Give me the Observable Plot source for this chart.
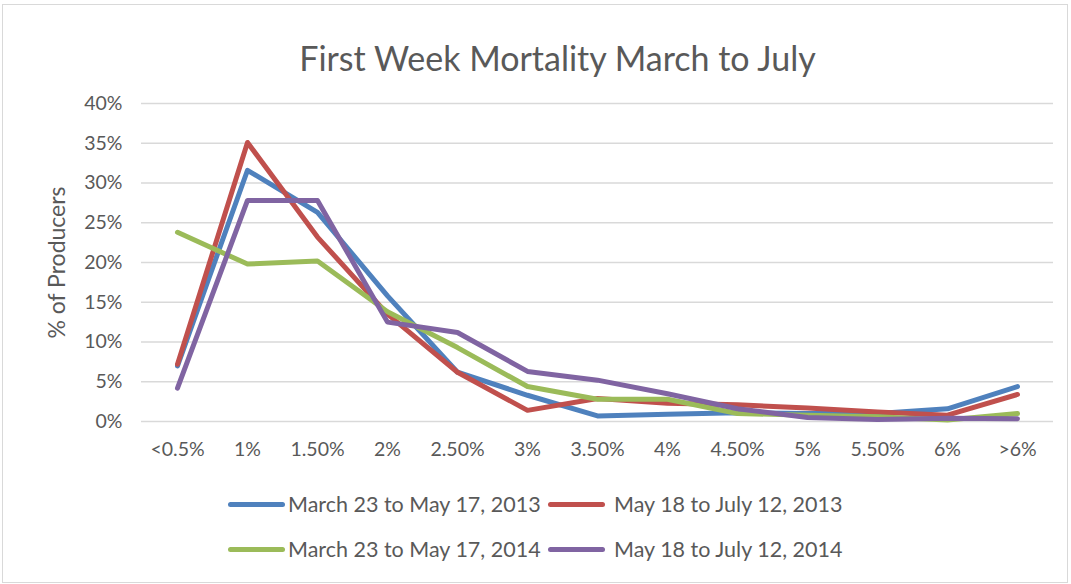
<!DOCTYPE html>
<html>
<head>
<meta charset="utf-8">
<script src="https://cdn.jsdelivr.net/npm/d3@7"></script>
<script src="https://cdn.jsdelivr.net/npm/@observablehq/plot@0.6"></script>
<style>
  html, body { margin: 0; padding: 0; background: #fff; overflow: hidden; }
  #wrap { position: relative; width: 1071px; height: 584px; font-family: Lato, "Open Sans", sans-serif; color: #595959; }
  #frame { position: absolute; left: 2px; top: 4px; width: 1064px; height: 577px; border: 1px solid #d9d9d9; }
  #title { position: absolute; left: 0; top: 41px; width: 1071px; padding-left: 44px; box-sizing: border-box; text-align: center; font-size: 34px; line-height: 34px; white-space: nowrap; }
  #chart { position: absolute; left: 0; top: 90px; }
  #legend { position: absolute; left: 228px; top: 490px; display: grid; grid-template-columns: 320px auto; row-gap: 17px; font-size: 21.5px; line-height: 28px; }
  .item { display: flex; align-items: center; white-space: nowrap; }
  .sw { display: inline-block; width: 57px; height: 5px; border-radius: 3px; margin-right: 3px; }
  .item.c2 .sw { margin-right: 9px; }
</style>
</head>
<body>
<div id="wrap">
  <div id="frame"></div>
  <div id="title">First Week Mortality March to July</div>
  <div id="chart"></div>
  <div id="legend"></div>
</div>
<script>
const categories = ["<0.5%", "1%", "1.50%", "2%", "2.50%", "3%", "3.50%", "4%", "4.50%", "5%", "5.50%", "6%", ">6%"];
const seriesNames = ["March 23 to May 17, 2013", "May 18 to July 12, 2013", "March 23 to May 17, 2014", "May 18 to July 12, 2014"];
const seriesColors = ["#4F81BD", "#C0504D", "#9BBB59", "#8064A2"];
const marMay2013 = [7.0, 31.6, 26.3, 15.8, 6.2, 3.3, 0.7, 0.9, 1.1, 1.0, 1.0, 1.6, 4.4];
const mayJul2013 = [7.2, 35.1, 23.2, 13.5, 6.2, 1.4, 2.9, 2.3, 2.1, 1.7, 1.2, 0.8, 3.4];
const marMay2014 = [23.8, 19.8, 20.2, 13.8, 9.3, 4.4, 2.8, 2.8, 1.0, 0.8, 0.6, 0.2, 1.0];
const mayJul2014 = [4.2, 27.8, 27.8, 12.5, 11.2, 6.3, 5.2, 3.5, 1.6, 0.5, 0.25, 0.4, 0.35];
const yTicks = [0, 0.05, 0.10, 0.15, 0.20, 0.25, 0.30, 0.35, 0.40];
const yLabel = "% of Producers";

const allSeries = [marMay2013, mayJul2013, marMay2014, mayJul2014];
const data = [];
allSeries.forEach((vals, si) => {
  vals.forEach((v, i) => data.push({series: seriesNames[si], cat: categories[i], value: v / 100}));
});

const chart = Plot.plot({
  width: 1071,
  height: 375,
  marginTop: 13,
  marginBottom: 44,
  marginLeft: 141,
  marginRight: 18,
  style: {fontFamily: "Lato, 'Open Sans', sans-serif", fontSize: "19.5px", color: "#595959", background: "transparent"},
  x: {type: "point", domain: categories, padding: 0.5, label: null, tickSize: 0, tickPadding: 21},
  y: {domain: [0, 0.4], ticks: yTicks, tickFormat: d3.format(".0%"), label: null, tickSize: 0, tickPadding: 19},
  color: {domain: seriesNames, range: seriesColors},
  marks: [
    Plot.gridY(yTicks, {stroke: "#d9d9d9", strokeOpacity: 1, strokeWidth: 1.3}),
    Plot.line(data, {x: "cat", y: "value", stroke: "series", z: "series", strokeWidth: 5, strokeLinejoin: "round", strokeLinecap: "round"}),
    Plot.text([yLabel], {text: d => d, frameAnchor: "left", textAnchor: "middle", dx: -84, rotate: -90, fontSize: 23, fill: "#595959"})
  ]
});
document.getElementById("chart").appendChild(chart);

const legend = document.getElementById("legend");
seriesNames.forEach((name, i) => {
  const item = document.createElement("div");
  item.className = "item" + (i % 2 ? " c2" : "");
  const sw = document.createElement("span");
  sw.className = "sw";
  sw.style.background = seriesColors[i];
  item.appendChild(sw);
  const t = document.createElement("span");
  t.textContent = name;
  item.appendChild(t);
  legend.appendChild(item);
});
</script>
</body>
</html>
